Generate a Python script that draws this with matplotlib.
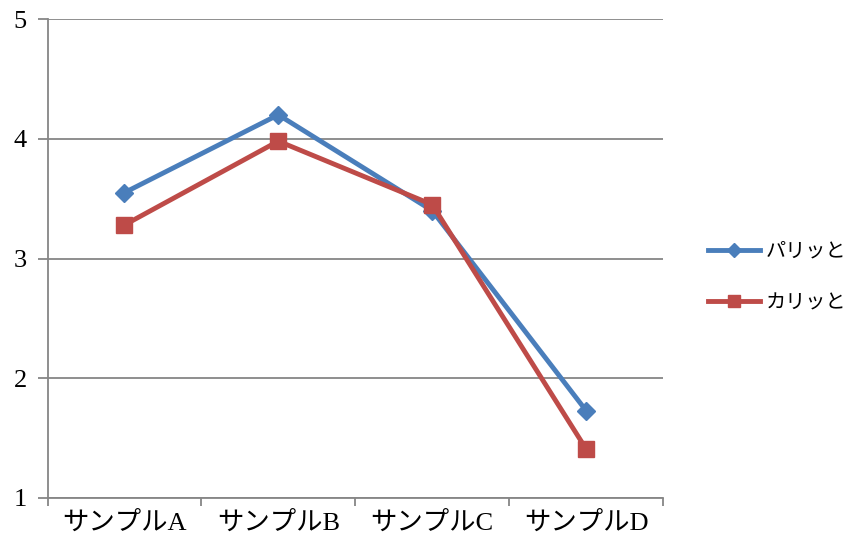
import matplotlib
matplotlib.use("Agg")
import matplotlib.pyplot as plt
import numpy as np

plt.rcParams['font.family'] = ['Liberation Serif', 'Noto Sans CJK JP']

# data
categories = ['サンプルA', 'サンプルB', 'サンプルC', 'サンプルD']
pari = [3.55, 4.20, 3.40, 1.73]
kari = [3.28, 3.98, 3.45, 1.41]
series_names = ['パリッと', 'カリッと']

gray = '#868686'
blue = '#4A7EBB'
red = '#BE4B48'

fig = plt.figure(figsize=(8.46, 5.45), dpi=100)
ax = fig.add_axes([47.5 / 846, 47 / 545, (663 - 47.5) / 846, (498 - 19) / 545])

x = np.arange(len(categories))
ax.plot(x, pari, color=blue, lw=3.5, marker='D', ms=9, label=series_names[0], zorder=3)
ax.plot(x, kari, color=red, lw=3.5, marker='s', ms=11, label=series_names[1], zorder=3)

ax.set_xlim(-0.5, len(categories) - 0.5)
ax.set_ylim(1, 5)
ax.set_yticks([1, 2, 3, 4, 5])
ax.grid(axis='y', color=gray, lw=1.3)
ax.set_axisbelow(True)

# category labels between boundary ticks
ax.set_xticks(np.arange(-0.5, len(categories)), minor=False)
ax.set_xticklabels([])
ax.set_xticks(x, minor=True)
ax.set_xticklabels(categories, minor=True, fontsize=19)
ax.tick_params(axis='x', which='major', length=6, color=gray, width=1.3)
ax.tick_params(axis='x', which='minor', length=0, pad=10)
ax.tick_params(axis='y', length=7, color=gray, width=1.3, labelsize=19, pad=8)

for s in ['top', 'right']:
    ax.spines[s].set_visible(False)
for s in ['left', 'bottom']:
    ax.spines[s].set_color(gray)
    ax.spines[s].set_linewidth(1.3)

fig.legend(loc='center left', bbox_to_anchor=(700 / 846, 1 - 278 / 545), frameon=False,
           fontsize=14.5, handlelength=2.6, handletextpad=0.25, labelspacing=1.6,
           markerscale=0.8, borderaxespad=0)

fig.savefig('out.png', dpi=100)
